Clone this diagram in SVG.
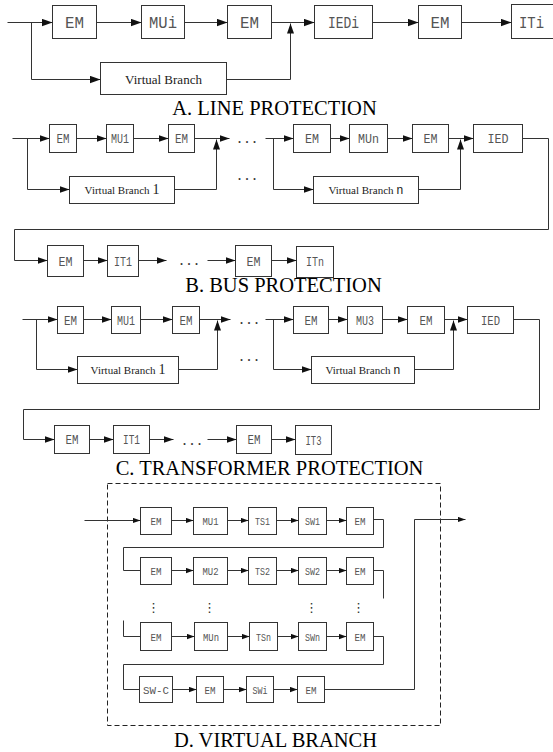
<svg xmlns="http://www.w3.org/2000/svg" width="553" height="752" viewBox="0 0 553 752">
  <style>
    .box { fill: #fff; stroke: #333; stroke-width: 1; }
    .ln { fill: none; stroke: #333; stroke-width: 1; }
    .la { marker-end: url(#ahL); }
    .mb { marker-end: url(#ahM); }
    .sm { marker-end: url(#ahS); }
    .lbl { font-family: "Liberation Mono", "DejaVu Sans Mono", monospace; fill: #555; text-anchor: middle; }
    .lA { font-size: 17px; }
    .lB { font-size: 13px; }
    .lD { font-size: 11px; }
    .vb { font-family: "Liberation Serif", serif; fill: #222; text-anchor: middle; }
    .ttl { font-family: "Liberation Serif", serif; font-size: 20.5px; fill: #000; text-anchor: middle; }
    .dots { font-family: "Liberation Serif", serif; font-size: 16px; fill: #333; letter-spacing: 3.5px; }
    .vdots { font-family: "DejaVu Sans", sans-serif; font-size: 13px; fill: #333; text-anchor: middle; }
    .frame { fill: none; stroke: #222; stroke-width: 1; stroke-dasharray: 5 3; }
  </style>
  <defs>
    <marker id="ahL" viewBox="0 0 10 7" refX="10" refY="3.5" markerWidth="11" markerHeight="8" markerUnits="userSpaceOnUse" orient="auto">
      <path d="M0,0L10,3.5L0,7z" fill="#111"/>
    </marker>
    <marker id="ahM" viewBox="0 0 10 7" refX="10" refY="3.5" markerWidth="10" markerHeight="7" markerUnits="userSpaceOnUse" orient="auto">
      <path d="M0,0L10,3.5L0,7z" fill="#111"/>
    </marker>
    <marker id="ahS" viewBox="0 0 10 7" refX="10" refY="3.5" markerWidth="8" markerHeight="6" markerUnits="userSpaceOnUse" orient="auto">
      <path d="M0,0L10,3.5L0,7z" fill="#111"/>
    </marker>
  </defs>
  <rect width="553" height="752" fill="#fff"/>

  <g transform="translate(0.5,0.5)">
    <!-- ===== A. line protection ===== -->
    <g id="a-em1"><rect class="box" x="52" y="5" width="44" height="33"/><text class="lbl lA" x="74" y="27" textLength="19" lengthAdjust="spacingAndGlyphs">EM</text></g>
    <g id="a-mui"><rect class="box" x="141" y="5" width="43" height="33"/><text class="lbl lA" x="162.5" y="27" textLength="28" lengthAdjust="spacingAndGlyphs">MUi</text></g>
    <g id="a-em2"><rect class="box" x="227" y="5" width="44" height="33"/><text class="lbl lA" x="249" y="27" textLength="19" lengthAdjust="spacingAndGlyphs">EM</text></g>
    <g id="a-iedi"><rect class="box" x="314" y="5" width="58" height="33"/><text class="lbl lA" x="343" y="27" textLength="31" lengthAdjust="spacingAndGlyphs">IEDi</text></g>
    <g id="a-em3"><rect class="box" x="418" y="5" width="43" height="33"/><text class="lbl lA" x="439.5" y="27" textLength="19" lengthAdjust="spacingAndGlyphs">EM</text></g>
    <g id="a-iti"><rect class="box" x="511" y="4" width="50" height="34"/><text class="lbl lA" x="531" y="27" textLength="25" lengthAdjust="spacingAndGlyphs">ITi</text></g>
    <g id="a-vb"><rect class="box" x="100" y="62" width="126" height="32"/><text class="vb" font-size="13" x="163" y="83">Virtual Branch</text></g>
    <text class="ttl" x="274" y="114">A. LINE PROTECTION</text>

    <g id="a-connectors">
      <path class="ln la" d="M7,22H52"/>
      <path class="ln la" d="M96,22H141"/>
      <path class="ln la" d="M184,22H227"/>
      <path class="ln la" d="M271,22H314"/>
      <path class="ln la" d="M372,22H418"/>
      <path class="ln la" d="M461,22H511"/>
      <path class="ln la" d="M31,22V79H100"/>
      <path class="ln mb" d="M226,79H290V23"/>
    </g>

    <!-- ===== B. bus protection ===== -->
    <g id="b-em1"><rect class="box" x="49" y="124" width="27" height="28"/><text class="lbl lB" x="62.5" y="142.5" textLength="13" lengthAdjust="spacingAndGlyphs">EM</text></g>
    <g id="b-mu1"><rect class="box" x="106" y="124" width="27" height="28"/><text class="lbl lB" x="119.5" y="142.5" textLength="18" lengthAdjust="spacingAndGlyphs">MU1</text></g>
    <g id="b-em2"><rect class="box" x="168" y="124" width="26" height="28"/><text class="lbl lB" x="181" y="142.5" textLength="13" lengthAdjust="spacingAndGlyphs">EM</text></g>
    <g id="b-em3"><rect class="box" x="293" y="124" width="37" height="28"/><text class="lbl lB" x="311.5" y="142.5" textLength="14" lengthAdjust="spacingAndGlyphs">EM</text></g>
    <g id="b-mun"><rect class="box" x="349" y="124" width="38" height="28"/><text class="lbl lB" x="368" y="142.5" textLength="21" lengthAdjust="spacingAndGlyphs">MUn</text></g>
    <g id="b-em4"><rect class="box" x="412" y="124" width="36" height="28"/><text class="lbl lB" x="430" y="142.5" textLength="14" lengthAdjust="spacingAndGlyphs">EM</text></g>
    <g id="b-ied"><rect class="box" x="473" y="124" width="49" height="28"/><text class="lbl lB" x="497.5" y="142.5" textLength="21" lengthAdjust="spacingAndGlyphs">IED</text></g>
    <g id="b-vb1"><rect class="box" x="69" y="176" width="105" height="27"/><text class="vb" font-size="11" x="121.5" y="193">Virtual Branch <tspan font-size="14">1</tspan></text></g>
    <g id="b-vbn"><rect class="box" x="313" y="176" width="105" height="27"/><text class="vb" font-size="11" x="365.5" y="193">Virtual Branch <tspan font-family="Liberation Mono, monospace" font-size="12">n</tspan></text></g>
    <g id="b-em5"><rect class="box" x="47" y="245" width="36" height="31"/><text class="lbl lB" x="65" y="265" textLength="14" lengthAdjust="spacingAndGlyphs">EM</text></g>
    <g id="b-it1"><rect class="box" x="107" y="245" width="31" height="31"/><text class="lbl lB" x="122.5" y="265" textLength="18" lengthAdjust="spacingAndGlyphs">IT1</text></g>
    <g id="b-em6"><rect class="box" x="235" y="245" width="36" height="31"/><text class="lbl lB" x="253" y="265" textLength="14" lengthAdjust="spacingAndGlyphs">EM</text></g>
    <g id="b-itn"><rect class="box" x="296" y="246" width="37" height="31"/><text class="lbl lB" x="314.5" y="265.5" textLength="18" lengthAdjust="spacingAndGlyphs">ITn</text></g>
    <text class="dots" x="237" y="142">...</text>
    <text class="dots" x="237" y="179">...</text>
    <text class="dots" x="179" y="264">...</text>
    <text class="ttl" x="283" y="291">B. BUS PROTECTION</text>

    <g id="b-connectors">
      <path class="ln mb" d="M12,138H49"/>
      <path class="ln mb" d="M76,138H106"/>
      <path class="ln mb" d="M133,138H168"/>
      <path class="ln mb" d="M194,138H229"/>
      <path class="ln mb" d="M27,138V189H69"/>
      <path class="ln mb" d="M174,189H216V139"/>
      <path class="ln mb" d="M265,138H293"/>
      <path class="ln mb" d="M273,138V189H313"/>
      <path class="ln mb" d="M330,138H349"/>
      <path class="ln mb" d="M387,138H412"/>
      <path class="ln mb" d="M448,138H473"/>
      <path class="ln mb" d="M418,189H460V139"/>
      <path class="ln mb" d="M522,138H548V229H14V260H47"/>
      <path class="ln mb" d="M83,260H107"/>
      <path class="ln mb" d="M138,260H166"/>
      <path class="ln mb" d="M207,260H235"/>
      <path class="ln mb" d="M271,260H296"/>
    </g>

    <!-- ===== C. transformer protection ===== -->
    <g id="c-em1"><rect class="box" x="57" y="306" width="26" height="27"/><text class="lbl lB" x="70" y="324" textLength="13" lengthAdjust="spacingAndGlyphs">EM</text></g>
    <g id="c-mu1"><rect class="box" x="111" y="306" width="29" height="27"/><text class="lbl lB" x="125.5" y="324" textLength="18" lengthAdjust="spacingAndGlyphs">MU1</text></g>
    <g id="c-em2"><rect class="box" x="172" y="306" width="27" height="27"/><text class="lbl lB" x="185.5" y="324" textLength="13" lengthAdjust="spacingAndGlyphs">EM</text></g>
    <g id="c-em3"><rect class="box" x="293" y="306" width="35" height="27"/><text class="lbl lB" x="310.5" y="324" textLength="13" lengthAdjust="spacingAndGlyphs">EM</text></g>
    <g id="c-mu3"><rect class="box" x="347" y="306" width="35" height="27"/><text class="lbl lB" x="364.5" y="324" textLength="18" lengthAdjust="spacingAndGlyphs">MU3</text></g>
    <g id="c-em4"><rect class="box" x="407" y="306" width="37" height="27"/><text class="lbl lB" x="425.5" y="324" textLength="13" lengthAdjust="spacingAndGlyphs">EM</text></g>
    <g id="c-ied"><rect class="box" x="467" y="306" width="46" height="27"/><text class="lbl lB" x="490" y="324" textLength="19" lengthAdjust="spacingAndGlyphs">IED</text></g>
    <g id="c-vb1"><rect class="box" x="77" y="356" width="101" height="27"/><text class="vb" font-size="11" x="127.5" y="373">Virtual Branch <tspan font-size="14">1</tspan></text></g>
    <g id="c-vbn"><rect class="box" x="311" y="356" width="103" height="27"/><text class="vb" font-size="11" x="362.5" y="373">Virtual Branch <tspan font-family="Liberation Mono, monospace" font-size="12">n</tspan></text></g>
    <g id="c-em5"><rect class="box" x="54" y="425" width="35" height="28"/><text class="lbl lB" x="71.5" y="443.5" textLength="13" lengthAdjust="spacingAndGlyphs">EM</text></g>
    <g id="c-it1"><rect class="box" x="113" y="425" width="36" height="28"/><text class="lbl lB" x="131" y="443.5" textLength="17" lengthAdjust="spacingAndGlyphs">IT1</text></g>
    <g id="c-em6"><rect class="box" x="236" y="425" width="35" height="28"/><text class="lbl lB" x="253.5" y="443.5" textLength="13" lengthAdjust="spacingAndGlyphs">EM</text></g>
    <g id="c-it3"><rect class="box" x="295" y="425" width="36" height="29"/><text class="lbl lB" x="313" y="444" textLength="16" lengthAdjust="spacingAndGlyphs">IT3</text></g>
    <text class="dots" x="239" y="323">...</text>
    <text class="dots" x="239" y="360">...</text>
    <text class="dots" x="182" y="444">...</text>
    <text class="ttl" x="269" y="474">C. TRANSFORMER PROTECTION</text>

    <g id="c-connectors">
      <path class="ln mb" d="M22,319H57"/>
      <path class="ln mb" d="M83,319H111"/>
      <path class="ln mb" d="M140,319H172"/>
      <path class="ln mb" d="M199,319H230"/>
      <path class="ln mb" d="M36,319V369H77"/>
      <path class="ln mb" d="M178,369H217V320"/>
      <path class="ln mb" d="M265,319H293"/>
      <path class="ln mb" d="M273,319V369H311"/>
      <path class="ln mb" d="M328,319H347"/>
      <path class="ln mb" d="M382,319H407"/>
      <path class="ln mb" d="M444,319H467"/>
      <path class="ln mb" d="M414,369H453V320"/>
      <path class="ln mb" d="M513,319H539V409H23V439H54"/>
      <path class="ln mb" d="M89,439H113"/>
      <path class="ln mb" d="M149,439H173"/>
      <path class="ln mb" d="M207,439H236"/>
      <path class="ln mb" d="M271,439H295"/>
    </g>

    <!-- ===== D. virtual branch ===== -->
    <rect class="frame" x="107" y="483" width="333" height="242"/>

    <g id="d-em11"><rect class="box" x="140" y="507" width="31" height="27"/><text class="lbl lD" x="155.5" y="524.5" textLength="11" lengthAdjust="spacingAndGlyphs">EM</text></g>
    <g id="d-mu1"><rect class="box" x="193" y="507" width="34" height="27"/><text class="lbl lD" x="210" y="524.5" textLength="16" lengthAdjust="spacingAndGlyphs">MU1</text></g>
    <g id="d-ts1"><rect class="box" x="248" y="507" width="28" height="27"/><text class="lbl lD" x="262" y="524.5" textLength="15" lengthAdjust="spacingAndGlyphs">TS1</text></g>
    <g id="d-sw1"><rect class="box" x="298" y="507" width="28" height="27"/><text class="lbl lD" x="312" y="524.5" textLength="15" lengthAdjust="spacingAndGlyphs">SW1</text></g>
    <g id="d-em12"><rect class="box" x="346" y="507" width="27" height="27"/><text class="lbl lD" x="359.5" y="524.5" textLength="11" lengthAdjust="spacingAndGlyphs">EM</text></g>

    <g id="d-em21"><rect class="box" x="140" y="557" width="31" height="27"/><text class="lbl lD" x="155.5" y="574.5" textLength="11" lengthAdjust="spacingAndGlyphs">EM</text></g>
    <g id="d-mu2"><rect class="box" x="193" y="557" width="34" height="27"/><text class="lbl lD" x="210" y="574.5" textLength="16" lengthAdjust="spacingAndGlyphs">MU2</text></g>
    <g id="d-ts2"><rect class="box" x="248" y="557" width="28" height="27"/><text class="lbl lD" x="262" y="574.5" textLength="15" lengthAdjust="spacingAndGlyphs">TS2</text></g>
    <g id="d-sw2"><rect class="box" x="298" y="557" width="28" height="27"/><text class="lbl lD" x="312" y="574.5" textLength="15" lengthAdjust="spacingAndGlyphs">SW2</text></g>
    <g id="d-em22"><rect class="box" x="346" y="557" width="27" height="27"/><text class="lbl lD" x="359.5" y="574.5" textLength="11" lengthAdjust="spacingAndGlyphs">EM</text></g>

    <text class="vdots" x="153" y="611">⋮</text>
    <text class="vdots" x="209" y="611">⋮</text>
    <text class="vdots" x="311" y="611">⋮</text>
    <text class="vdots" x="358" y="611">⋮</text>

    <g id="d-emn1"><rect class="box" x="140" y="622" width="31" height="28"/><text class="lbl lD" x="155.5" y="640" textLength="11" lengthAdjust="spacingAndGlyphs">EM</text></g>
    <g id="d-mun"><rect class="box" x="194" y="622" width="33" height="28"/><text class="lbl lD" x="210.5" y="640" textLength="16" lengthAdjust="spacingAndGlyphs">MUn</text></g>
    <g id="d-tsn"><rect class="box" x="249" y="622" width="28" height="28"/><text class="lbl lD" x="263" y="640" textLength="15" lengthAdjust="spacingAndGlyphs">TSn</text></g>
    <g id="d-swn"><rect class="box" x="298" y="622" width="28" height="28"/><text class="lbl lD" x="312" y="640" textLength="15" lengthAdjust="spacingAndGlyphs">SWn</text></g>
    <g id="d-emn2"><rect class="box" x="346" y="622" width="27" height="28"/><text class="lbl lD" x="359.5" y="640" textLength="11" lengthAdjust="spacingAndGlyphs">EM</text></g>

    <g id="d-swc"><rect class="box" x="139" y="676" width="33" height="26"/><text class="lbl lD" x="155.5" y="693" textLength="26" lengthAdjust="spacingAndGlyphs">SW-C</text></g>
    <g id="d-emc1"><rect class="box" x="196" y="676" width="27" height="26"/><text class="lbl lD" x="209.5" y="693" textLength="11" lengthAdjust="spacingAndGlyphs">EM</text></g>
    <g id="d-swi"><rect class="box" x="246" y="676" width="27" height="26"/><text class="lbl lD" x="259.5" y="693" textLength="15" lengthAdjust="spacingAndGlyphs">SWi</text></g>
    <g id="d-emc2"><rect class="box" x="297" y="676" width="27" height="26"/><text class="lbl lD" x="310.5" y="693" textLength="11" lengthAdjust="spacingAndGlyphs">EM</text></g>

    <text class="ttl" x="275" y="746">D. VIRTUAL BRANCH</text>

    <g id="d-connectors">
      <path class="ln sm" d="M84,520H140"/>
      <path class="ln sm" d="M171,520H193"/>
      <path class="ln sm" d="M227,520H248"/>
      <path class="ln sm" d="M276,520H298"/>
      <path class="ln sm" d="M326,520H346"/>
      <path class="ln" d="M373,519H383V547H123V570H140"/>
      <path class="ln sm" d="M171,570H193"/>
      <path class="ln sm" d="M227,570H248"/>
      <path class="ln sm" d="M276,570H298"/>
      <path class="ln sm" d="M326,570H346"/>
      <path class="ln" d="M373,570H383V598"/>
      <path class="ln" d="M123,620V636H140"/>
      <path class="ln sm" d="M171,636H194"/>
      <path class="ln sm" d="M227,636H249"/>
      <path class="ln sm" d="M277,636H298"/>
      <path class="ln sm" d="M326,636H346"/>
      <path class="ln" d="M373,636H383V664H123V689H139"/>
      <path class="ln sm" d="M172,689H196"/>
      <path class="ln sm" d="M223,689H246"/>
      <path class="ln sm" d="M273,689H297"/>
      <path class="ln sm" d="M324,689H414V519H465"/>
    </g>
  </g>
</svg>
